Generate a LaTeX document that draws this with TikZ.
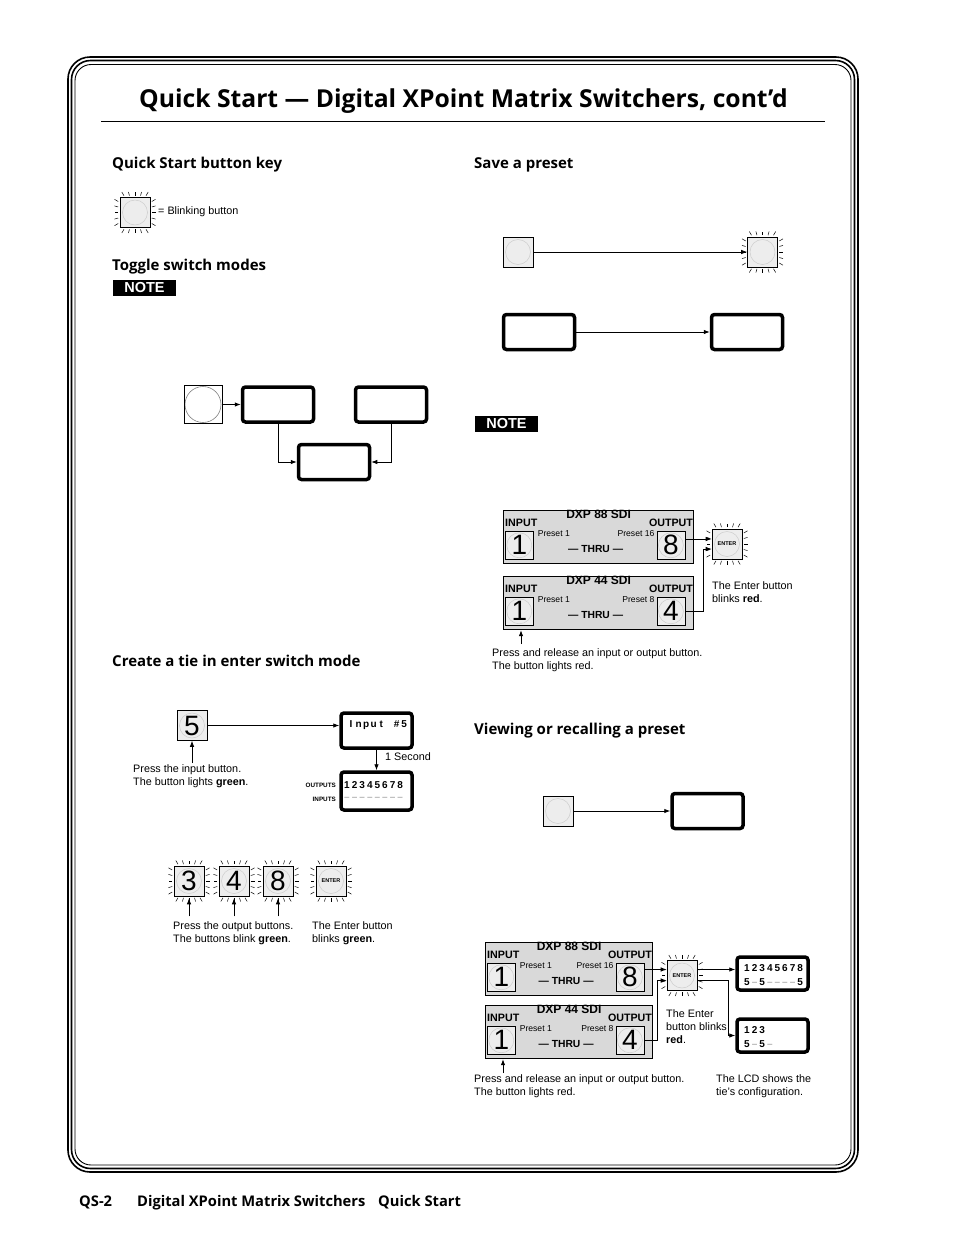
\documentclass[tikz,border=0pt]{standalone}
\usepackage{fontspec}
\setmainfont{Liberation Sans}
\newfontfamily\headfont{Open Sans}
\usetikzlibrary{arrows.meta,calc}

\definecolor{btngray}{gray}{0.93}
\definecolor{panelgray}{gray}{0.85}
\definecolor{rimgray}{gray}{0.80}

\newcommand{\digitfont}{\fontsize{28}{28}\selectfont}
\newcommand{\lcdcell}[1]{\makebox[7.6pt]{#1}}
\newcommand{\lcdgap}{\lcdcell{\textcolor{gray!60}{–}}}

\tikzset{
  conn/.style={line width=0.8pt, -{Latex[length=6pt,width=4.5pt]}},
  btn/.style={draw, line width=0.6pt, fill=btngray, minimum size=30pt, inner sep=0pt,
    path picture={\draw[rimgray, line width=0.5pt] (path picture bounding box.center) circle (12.5pt);}},
  lcd/.style={draw, line width=3.5pt, rounded corners=3pt, minimum width=71pt, minimum height=35pt, inner sep=0pt},
  lcdtext/.style={font=\bfseries\fontsize{10}{12}\selectfont, inner sep=0pt, anchor=west},
  panel/.style={draw, line width=1.2pt, fill=panelgray, minimum height=53pt, inner sep=0pt},
  paneltitle/.style={font=\bfseries\fontsize{12}{14}\selectfont, inner sep=0pt},
  panellabel/.style={font=\bfseries\fontsize{10.7}{12}\selectfont, inner sep=0pt},
  presetlabel/.style={font=\fontsize{8.6}{10}\selectfont, inner sep=0pt},
  body/.style={font=\fontsize{10.8}{13}\selectfont, inner sep=0pt, align=left},
  head/.style={font=\headfont\bfseries\fontsize{15}{18}\selectfont, inner sep=0pt, anchor=base west},
  foot/.style={font=\headfont\bfseries\fontsize{14.7}{17}\selectfont, inner sep=0pt, anchor=base west},
  note/.style={fill=black, text=white, font=\bfseries\fontsize{14.5}{15}\selectfont,
    minimum width=63pt, minimum height=16pt, inner sep=0pt},
  enterbtn/.style={btn, font=\bfseries\fontsize{5.5}{6}\selectfont}
}

% rays round a blinking button
\newcommand{\blinkrays}[1]{%
  \foreach \t in {-11,-5.5,0,5.5,11}{%
    \draw[line width=0.5pt] ($(#1.center)+(\t,-16.8)$) -- ($(#1.center)+(1.2*\t,-20.5)$);
    \draw[line width=0.5pt] ($(#1.center)+(\t,16.8)$) -- ($(#1.center)+(1.2*\t,20.5)$);
    \draw[line width=0.5pt] ($(#1.center)+(-16.8,\t)$) -- ($(#1.center)+(-20.5,1.2*\t)$);
    \draw[line width=0.5pt] ($(#1.center)+(16.8,\t)$) -- ($(#1.center)+(20.5,1.2*\t)$);
  }}

% one switcher front panel: name, left, top, width, model, output digit, last preset
\newcommand{\dxppanel}[7]{%
  \node[panel, minimum width=#4pt, anchor=north west] (#1) at (#2,#3) {};
  \node[paneltitle, anchor=base] (#1-title) at ($(#1.north)+(0,8)$) {#5};
  \node[panellabel, anchor=base west] (#1-inlabel) at ($(#1.north west)+(2,16)$) {INPUT};
  \node[panellabel, anchor=base east] (#1-outlabel) at ($(#1.north east)+(-1,16)$) {OUTPUT};
  \node[btn, minimum size=28pt, font=\digitfont, anchor=north west] (#1-in) at ($(#1.north west)+(2,21)$) {1};
  \node[btn, minimum size=28pt, font=\digitfont, anchor=north east] (#1-out) at ($(#1.north east)+(-9,21)$) {#6};
  \node[presetlabel, anchor=base west] (#1-first) at ($(#1-in.north east)+(4,5)$) {Preset 1};
  \node[presetlabel, anchor=base east] (#1-last) at ($(#1-out.north west)+(-2,5)$) {Preset #7};
  \node[panellabel, font=\bfseries\fontsize{10.3}{12}\selectfont, anchor=base] (#1-thru) at ($(#1.north)+(-3,42)$) {— THRU —};
}

\begin{document}
\begin{tikzpicture}[x=1pt, y=-1pt]
    \useasboundingbox (0,0) rectangle (954,1235);
    % Page frame and title.
        \draw[line width=1.6pt, rounded corners=22pt] (68,57) rectangle (858,1172);
        \draw[line width=1.6pt, rounded corners=19pt] (71.5,60.5) rectangle (854.5,1168.5);
        \draw[line width=0.9pt, rounded corners=16pt] (75,64.5) rectangle (851,1165);
        \node[font=\headfont\bfseries\fontsize{24.7}{29}\selectfont, inner sep=0pt, anchor=base] (title) at (463.5,107) {Quick Start — Digital XPoint Matrix Switchers, cont’d};
        \draw[line width=0.7pt] (101,121) -- (825,121);

    % Below nodes are the section headings.
        \node[head] (keyhead) at (112,168) {Quick Start button key};
        \node[head] (togglehead) at (112,270) {Toggle switch modes};
        \node[head] (tiehead) at (112,666) {Create a tie in enter switch mode};
        \node[head] (savehead) at (474,168) {Save a preset};
        \node[head] (viewhead) at (474,734) {Viewing or recalling a preset};
        \node[note] (note1) at (144.5,288) {NOTE};
        \node[note] (note2) at (506.5,424) {NOTE};

    % Button key.
        \node[btn] (keybtn) at (135,212.5) {};
        \blinkrays{keybtn}
        \node[body, anchor=west] (keytxt) at (158,212) {= Blinking button};

    % Toggle switch modes.
        \node[draw, line width=0.8pt, minimum size=38pt, inner sep=0pt,
          path picture={\draw[gray, line width=0.6pt] (path picture bounding box.center) circle (18pt);}] (toggle) at (203,404.5) {};
        \node[lcd] (modeA) at (278,404.5) {};
        \node[lcd] (modeB) at (391,404.5) {};
        \node[lcd] (modeC) at (334,462) {};
        \draw[conn] (toggle) -- (modeA);
        \draw[conn] (modeA.south) |- (modeC.west);
        \draw[conn] (modeB.south) |- (modeC.east);

    % Save a preset.
        \node[btn] (savein) at (518,252) {};
        \node[btn] (saveout) at (762.5,252) {};
        \blinkrays{saveout}
        \draw[conn] (savein) -- (saveout);
        \node[lcd] (savelcdA) at (539,332) {};
        \node[lcd] (savelcdB) at (747,332) {};
        \draw[conn] (savelcdA) -- (savelcdB);

        \dxppanel{savep1}{503}{510}{190}{DXP 88 SDI}{8}{16}
        \dxppanel{savep2}{503}{576}{190}{DXP 44 SDI}{4}{8}
        \node[enterbtn] (enter1) at (727,544) {ENTER};
        \blinkrays{enter1}
        \coordinate (enter1a) at ($(enter1.west)+(0,-5)$);
        \draw[conn] (savep1-out.east |- enter1a) -- (enter1a);
        \draw[conn] (savep2-out.east) -- ++(18,0) |- ($(enter1.west)+(0,5)$);
        \node[body, anchor=north west] (enter1txt) at (712,581) {The Enter button\\blinks \textbf{red}.};
        \coordinate (press1) at (521,644);
        \draw[conn] (press1) -- (press1 |- savep2.south);
        \node[body, anchor=north west] (press1txt) at (492,648) {Press and release an input or output button.\\The button lights red.};

    % Create a tie.
        \node[btn, font=\digitfont] (tie5) at (192,725.5) {5};
        \node[lcd] (tielcdA) at (376.5,730.5) {};
        \node[lcd, minimum height=38pt] (tielcdB) at (376.5,791) {};
        \draw[conn] (tie5.east) -- (tie5.east -| tielcdA.west);
        \draw[conn] (tielcdA) -- (tielcdB);
        \node[body, anchor=west] (onesec) at (385,757) {1 Second};
        \node[lcdtext] (tieinput) at (347,725) {\lcdcell I\lcdcell n\lcdcell p\lcdcell u\lcdcell t\lcdcell{}\lcdcell\#\lcdcell5};
        \node[lcdtext] (tieouts) at (343,785) {\lcdcell1\lcdcell2\lcdcell3\lcdcell4\lcdcell5\lcdcell6\lcdcell7\lcdcell8};
        \node[lcdtext] (tieins) at (343,799) {\lcdgap\lcdgap\lcdgap\lcdgap\lcdgap\lcdgap\lcdgap\lcdgap};
        \node[font=\bfseries\fontsize{6.3}{7}\selectfont, inner sep=0pt, anchor=east] (outslabel) at (336,785) {OUTPUTS};
        \node[font=\bfseries\fontsize{6.3}{7}\selectfont, inner sep=0pt, anchor=east] (inslabel) at (336,799) {INPUTS};
        \coordinate (press2) at (192,763);
        \draw[conn] (press2) -- (tie5);
        \node[body, anchor=north west] (press2txt) at (133,764) {Press the input button.\\The button lights \textbf{green}.};

        \node[btn, font=\digitfont] (out3) at (189,881) {3};
        \node[btn, font=\digitfont] (out4) at (234,881) {4};
        \node[btn, font=\digitfont] (out8) at (278,881) {8};
        \node[enterbtn] (enter3) at (331,881) {ENTER};
        \foreach \b in {out3,out4,out8,enter3}{\blinkrays{\b}}
        \foreach \b in {out3,out4,out8}{\draw[conn] ($(\b.south)+(0,20)$) -- ($(\b.south)+(0,2)$);}
        \node[body, anchor=north west] (outtxt) at (173,921) {Press the output buttons.\\The buttons blink \textbf{green}.};
        \node[body, anchor=north west] (enter3txt) at (312,921) {The Enter button\\blinks \textbf{green}.};

    % Viewing or recalling a preset.
        \node[btn] (viewbtn) at (558,811) {};
        \node[lcd] (viewlcd) at (707.5,811) {};
        \coordinate (viewtip) at (viewlcd.west);
        \draw[conn, line width=0.9pt] (viewbtn.east) -- (viewtip);

        \dxppanel{viewp1}{485}{942}{167}{DXP 88 SDI}{8}{16}
        \dxppanel{viewp2}{485}{1005}{167}{DXP 44 SDI}{4}{8}
        \node[enterbtn] (enter2) at (682,975.5) {ENTER};
        \blinkrays{enter2}
        \node[lcd, minimum height=33pt] (viewlcdA) at (772.5,973.5) {};
        \node[lcd, minimum height=33pt] (viewlcdB) at (772.5,1035.5) {};
        \coordinate (enter2a) at ($(enter2.west)+(0,-6)$);
        \draw[conn] (viewp1-out.east |- enter2a) -- (enter2a);
        \draw[conn] (viewp2-out.east) -- ++(13,0) |- ($(enter2.west)+(0,5)$);
        \coordinate (enter2b) at ($(enter2.east)+(0,-6)$);
        \draw[conn] (enter2b) -- (enter2b -| viewlcdA.west);
        \draw[conn] ($(enter2.east)+(0,5)$) -- ++(31,0) |- (viewlcdB.west);
        \node[lcdtext] (lcdAtop) at (743,968) {\lcdcell1\lcdcell2\lcdcell3\lcdcell4\lcdcell5\lcdcell6\lcdcell7\lcdcell8};
        \node[lcdtext] (lcdAbot) at (743,982) {\lcdcell5\lcdgap\lcdcell5\lcdgap\lcdgap\lcdgap\lcdgap\lcdcell5};
        \node[lcdtext] (lcdBtop) at (743,1030) {\lcdcell1\lcdcell2\lcdcell3};
        \node[lcdtext] (lcdBbot) at (743,1044) {\lcdcell5\lcdgap\lcdcell5\lcdgap};
        \node[body, anchor=north west] (enter2txt) at (666,1009) {The Enter\\button blinks\\\textbf{red}.};
        \coordinate (press3) at (503,1073);
        \draw[conn] (press3) -- (press3 |- viewp2.south);
        \node[body, anchor=north west] (press3txt) at (474,1074) {Press and release an input or output button.\\The button lights red.};
        \node[body, anchor=north west] (lcdtxt) at (716,1074) {The LCD shows the\\tie's configuration.};

    % Footer.
        \node[foot] (pagenum) at (79,1206) {QS-2};
        \node[foot] (foottitle) at (137,1206) {Digital XPoint Matrix Switchers};
        \node[foot] (footpart) at (378,1206) {Quick Start};
\end{tikzpicture}
\end{document}
